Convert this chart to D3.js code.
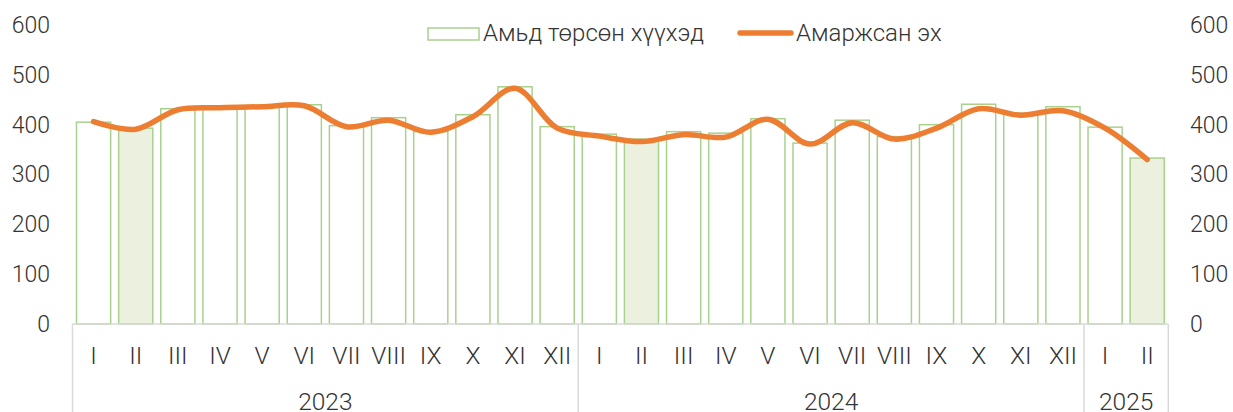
<!DOCTYPE html>
<html>
<head>
<meta charset="utf-8">
<script src="https://cdn.jsdelivr.net/npm/d3@7"></script>
<style>
  body { margin: 0; background: #fff; }
  svg text { font-family: Roboto, sans-serif; font-weight: 300; fill: #333; }
</style>
</head>
<body>
<svg id="chart"></svg>
<script>
const years = ['2023', '2024', '2025']
const months = ['I', 'II', 'III', 'IV', 'V', 'VI', 'VII', 'VIII', 'IX', 'X', 'XI', 'XII',
                'I', 'II', 'III', 'IV', 'V', 'VI', 'VII', 'VIII', 'IX', 'X', 'XI', 'XII',
                'I', 'II']
const monthYear = [0,0,0,0,0,0,0,0,0,0,0,0, 1,1,1,1,1,1,1,1,1,1,1,1, 2,2]
const births = [405, 393, 432, 435, 437, 440, 398, 414, 386, 420, 476, 396,
                381, 371, 386, 383, 412, 363, 409, 376, 400, 441, 423, 436,
                395, 333]
const mothers = [406, 391, 430, 434, 436, 438, 396, 409, 385, 416, 473, 393,
                 377, 366, 380, 375, 411, 361, 404, 371, 393, 432, 419, 428,
                 393, 330]
const highlighted = [1, 13, 25]
const yTicks = [0, 100, 200, 300, 400, 500, 600]
const seriesNames = ['Амьд төрсөн хүүхэд', 'Амаржсан эх']

const w = 1233
const h = 412
const padLeft = 72.5
const padRight = 1168.3
const plotBottom = 324
const plotTop = 25

const svg = d3.select('#chart').attr('width', w).attr('height', h)

const x = d3.scaleBand()
            .domain(d3.range(months.length))
            .range([padLeft, padRight])
            .paddingInner(0.19)
            .paddingOuter(0.095)
const y = d3.scaleLinear().domain([0, 600]).range([plotBottom, plotTop])

// bars
svg.append('g')
  .selectAll('rect')
  .data(births)
  .enter()
  .append('rect')
    .attr('x', (d, i) => x(i))
    .attr('y', d => y(d))
    .attr('width', x.bandwidth())
    .attr('height', d => y(0) - y(d))
    .attr('fill', (d, i) => highlighted.includes(i) ? '#EBF1DE' : '#fff')
    .attr('stroke', '#A9D18E')
    .attr('stroke-width', 1.5)

// line
const line = d3.line()
               .x((d, i) => x(i) + x.bandwidth() / 2)
               .y(d => y(d))
               .curve(d3.curveCatmullRom.alpha(0.5))
svg.append('path')
  .datum(mothers)
  .attr('d', line)
  .attr('fill', 'none')
  .attr('stroke', '#ED7D31')
  .attr('stroke-width', 5.5)
  .attr('stroke-linecap', 'round')
  .attr('stroke-linejoin', 'round')

// y axes
const yAxisL = d3.axisLeft(y).tickValues(yTicks).tickSize(0).tickPadding(0)
svg.append('g')
  .attr('transform', 'translate(50, 0)')
  .call(yAxisL)
  .call(g => g.select('.domain').remove())
const yAxisR = d3.axisRight(y).tickValues(yTicks).tickSize(0).tickPadding(0)
svg.append('g')
  .attr('transform', 'translate(1190, 0)')
  .call(yAxisR)
  .call(g => g.select('.domain').remove())
svg.selectAll('.tick text')
  .attr('font-size', 23)
  .attr('font-family', 'Roboto, sans-serif')
  .attr('fill', '#333')

// category axis box
const grid = svg.append('g').attr('stroke', '#D9D9D9').attr('stroke-width', 1.5)
grid.append('line').attr('x1', padLeft).attr('x2', padRight).attr('y1', plotBottom).attr('y2', plotBottom)
const bounds = [0, 12, 24, 26]
bounds.forEach(b => {
  const bx = b === months.length ? padRight : x(b) - x.step() * x.paddingInner() / 2
  grid.append('line').attr('x1', bx).attr('x2', bx).attr('y1', plotBottom).attr('y2', h)
})

svg.append('g')
  .selectAll('text')
  .data(months)
  .enter()
  .append('text')
    .attr('x', (d, i) => x(i) + x.bandwidth() / 2)
    .attr('y', 364)
    .attr('text-anchor', 'middle')
    .attr('font-size', 24.5)
    .text(d => d)

svg.append('g')
  .selectAll('text')
  .data(years)
  .enter()
  .append('text')
    .attr('x', (d, yi) => {
      const idx = d3.range(months.length).filter(i => monthYear[i] === yi)
      const a = x(idx[0]) - x.step() * x.paddingInner() / 2
      const b = x(idx[idx.length - 1]) + x.bandwidth() + x.step() * x.paddingInner() / 2
      return (a + b) / 2
    })
    .attr('y', 410)
    .attr('text-anchor', 'middle')
    .attr('font-size', 24.5)
    .text(d => d)

// legend
const legend = svg.append('g')
legend.append('rect')
  .attr('x', 428).attr('y', 28).attr('width', 51).attr('height', 12)
  .attr('fill', '#fff').attr('stroke', '#A9D18E').attr('stroke-width', 1.5)
legend.append('text')
  .attr('x', 483).attr('y', 41).attr('font-size', 24)
  .text(seriesNames[0])
legend.append('line')
  .attr('x1', 740).attr('x2', 791).attr('y1', 33).attr('y2', 33)
  .attr('stroke', '#ED7D31').attr('stroke-width', 5.5).attr('stroke-linecap', 'round')
legend.append('text')
  .attr('x', 796).attr('y', 41).attr('font-size', 24)
  .text(seriesNames[1])
</script>
</body>
</html>
